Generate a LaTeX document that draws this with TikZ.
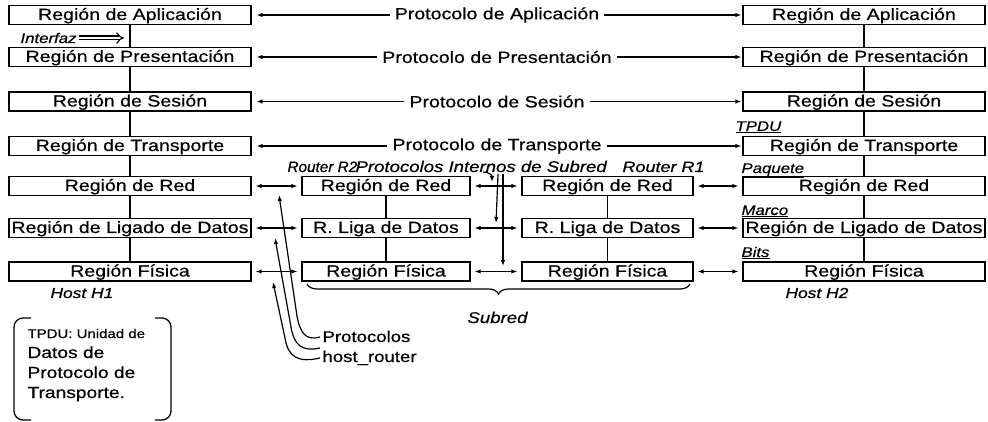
\documentclass[tikz,border=0pt]{standalone}
\usepackage{fontspec}
\setmainfont{Liberation Sans}[FakeStretch=1.2,FakeBold=0.6]
\usetikzlibrary{arrows.meta,decorations.pathreplacing}
\begin{document}
\begin{tikzpicture}[x=1pt,y=-1pt,
  line width=1pt,
  box/.style={draw, line width=1.3pt, minimum height=19pt, inner sep=0pt, text height=12pt, text depth=2pt, font=\fontsize{16.3}{18}\selectfont},
  wide/.style={box, minimum width=242pt},
  rtwo/.style={box, minimum width=168pt},
  rone/.style={box, minimum width=171pt},
  lbl/.style={font=\fontsize{14}{16}\selectfont\itshape, inner sep=0pt},
  plbl/.style={font=\fontsize{15.5}{17}\selectfont, inner sep=0pt},
  ptext/.style={fill=white, inner xsep=5pt, inner ysep=1pt, font=\fontsize{16.3}{18}\selectfont},
  tipa/.style={-{Latex[length=6pt,width=4.5pt]}, line width=1.2pt},
  both/.style={{Latex[length=6pt,width=4.5pt]}-{Latex[length=6pt,width=4.5pt]}, line width=1.1pt},
]
\useasboundingbox (0,0) rectangle (988,422);

% left host
\node[wide] (la) at (130,15) {Región de Aplicación};
\node[wide] (lp) at (130,57) {Región de Presentación};
\node[wide] (ls) at (130,101.5) {Región de Sesión};
\node[wide] (lt) at (130,146) {Región de Transporte};
\node[wide] (lr) at (130,186) {Región de Red};
\node[wide] (ll) at (130,228) {Región de Ligado de Datos};
\node[wide] (lf) at (130,271.5) {Región Física};
% right host
\node[wide] (ra) at (864,15) {Región de Aplicación};
\node[wide] (rp) at (864,57) {Región de Presentación};
\node[wide] (rs) at (864,101.5) {Región de Sesión};
\node[wide] (rt) at (864,146) {Región de Transporte};
\node[wide] (rr) at (864,186) {Región de Red};
\node[wide] (rl) at (864,228) {Región de Ligado de Datos};
\node[wide] (rf) at (864,271.5) {Región Física};
% router R2
\node[rtwo] (br) at (386,186) {Región de Red};
\node[rtwo] (bl) at (386,228) {R. Liga de Datos};
\node[rtwo] (bf) at (386,271.5) {Región Física};
% router R1
\node[rone] (cr) at (607.5,186) {Región de Red};
\node[rone] (cl) at (607.5,228) {R. Liga de Datos};
\node[rone] (cf) at (607.5,271.5) {Región Física};

% vertical links
\foreach \a/\b in {la/lp,lp/ls,ls/lt,lt/lr,lr/ll,ll/lf,ra/rp,rp/rs,rs/rt,rt/rr,rr/rl,rl/rf,br/bl,bl/bf,cr/cl,cl/cf}
  \draw[line width=1.2pt] (\a) -- (\b);

% peer protocols
\draw[both, shorten <=5pt, shorten >=1pt] (la) -- node[ptext] (pa) {Protocolo de Aplicación} (ra);
\draw[both, shorten <=5pt, shorten >=1pt] (lp) -- node[ptext] (pp) {Protocolo de Presentación} (rp);
\draw[both, shorten <=5pt, shorten >=1pt] (ls) -- node[ptext] (ps) {Protocolo de Sesión} (rs);
\draw[both, shorten <=5pt, shorten >=1pt] (lt) -- node[ptext] (pt) {Protocolo de Transporte} (rt);

% hop by hop
\foreach \a/\b in {lr/br,br/cr,cr/rr,ll/bl,bl/cl,cl/rl,lf/bf,bf/cf,cf/rf}
  \draw[both, shorten <=4pt, shorten >=4pt] (\a) -- (\b);

% labels
\node[lbl, anchor=base west] (interfaz) at (20,43) {Interfaz};
\coordinate (ifend) at (124,39);
\draw[double, double distance=2.8pt, line width=1.1pt, -{Implies}] ([xshift=2pt]interfaz.east) -- (interfaz.east -| ifend);
\node[lbl, anchor=base west] (tpdu) at (735,131) {\underline{TPDU}};
\node[lbl, anchor=base west] (paq) at (741,173) {\underline{Paquete}};
\node[lbl, anchor=base west] (marco) at (741,215) {\underline{Marco}};
\node[lbl, anchor=base west] (bits) at (741,257) {\underline{Bits}};
\node[lbl, font=\fontsize{14.5}{16}\selectfont\itshape, anchor=base west] (h1) at (50,298) {Host H1};
\node[lbl, font=\fontsize{14.5}{16}\selectfont\itshape, anchor=base west] (h2) at (785,298) {Host H2};
\node[lbl, font=\fontsize{15.5}{17}\selectfont\itshape, anchor=base west] (subred) at (467,323) {Subred};

\node[lbl, font=\fontsize{15}{17}\selectfont\itshape, anchor=base west] (rtr2) at (287,172) {\scalebox{0.85}[1]{Router R2}};
\node[lbl, font=\fontsize{15.5}{17}\selectfont\itshape, anchor=base west] (pis) at (355,172) {Protocolos Internos de Subred};
\node[lbl, font=\fontsize{15}{17}\selectfont\itshape, anchor=base east] (rtr1) at (705,172) {Router R1};

% subnet brace
\draw[line width=1.2pt, decorate, decoration={brace, mirror, amplitude=10pt}] (307,284) -- (690,284);

% host-router protocol pointers
\node[plbl, anchor=base west] (prot) at (322,342) {Protocolos};
\node[plbl, anchor=base west] (hr) at (322,362) {host\_router};
\coordinate (c1s) at (320,337);
\coordinate (c2s) at (320,348);
\coordinate (c3s) at (320,358);
\coordinate (c1e) at (279,195);
\coordinate (c2e) at (275,238);
\coordinate (c3e) at (273,282);
\draw[tipa] (c1s) .. controls (306,341) and (300,333) .. (297,316) -- (c1e);
\draw[tipa] (c2s) .. controls (302,352) and (294,345) .. (291,327) -- (c2e);
\draw[tipa] (c3s) .. controls (298,363) and (288,357) .. (285,338) -- (c3e);

% internal subnet protocol pointers
\coordinate (s1s) at (483,172);
\coordinate (s1e) at (492,182);
\coordinate (s2s) at (498,174);
\coordinate (s2e) at (496,223);
\coordinate (s3s) at (503,174);
\coordinate (s3e) at (503,266);
\draw[tipa] (s1s) .. controls (489,172) and (492,175) .. (s1e);
\draw[tipa] (s2s) -- (s2e);
\draw[tipa] (s3s) -- (s3e);

% note bracket
\node[font=\fontsize{12.5}{14}\selectfont, anchor=base west, inner sep=0pt] (n1) at (27,338) {TPDU: Unidad de};
\node[font=\fontsize{16}{18}\selectfont, anchor=base west, inner sep=0pt] (n2) at (27,358) {Datos de};
\node[font=\fontsize{16}{18}\selectfont, anchor=base west, inner sep=0pt] (n3) at (27,378) {Protocolo de};
\node[font=\fontsize{16}{18}\selectfont, anchor=base west, inner sep=0pt] (n4) at (27,398) {Transporte.};
\draw[line width=1.3pt, rounded corners=9pt] (31,318) -- (14,318) -- (14,420) -- (31,420);
\draw[line width=1.3pt, rounded corners=9pt] (155,318) -- (171,318) -- (171,420) -- (155,420);
\end{tikzpicture}
\end{document}
